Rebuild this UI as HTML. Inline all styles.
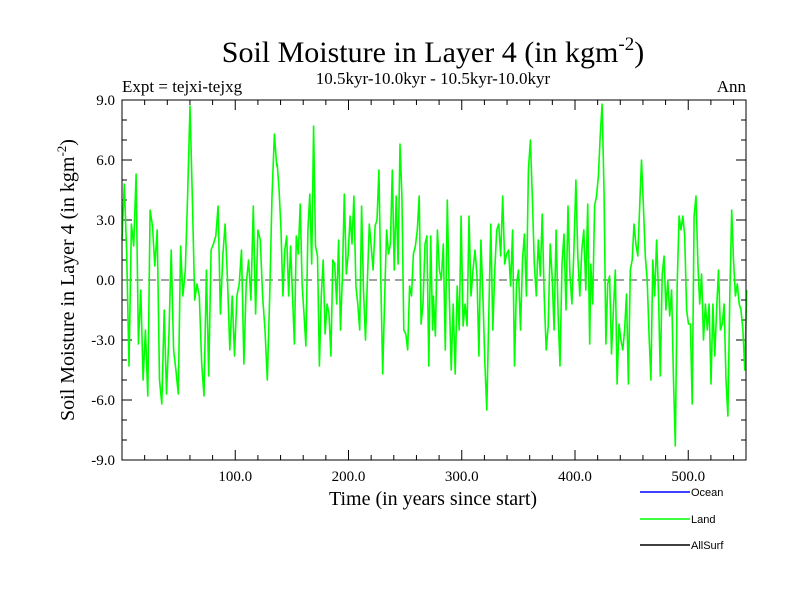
<!DOCTYPE html>
<html><head><meta charset="utf-8"><style>
body{margin:0;background:#fff}
svg{display:block}
text{font-family:"Liberation Serif",serif;fill:#000}
</style></head><body>
<svg id="chart" width="800" height="600" xmlns="http://www.w3.org/2000/svg">
<text x="433" y="62" font-size="30" text-anchor="middle">Soil Moisture in Layer 4 (in kgm<tspan font-size="19" dy="-12">-2</tspan><tspan dy="12">)</tspan></text>
<text x="433" y="84" font-size="17" text-anchor="middle">10.5kyr-10.0kyr - 10.5kyr-10.0kyr</text>
<text x="122" y="92" font-size="17">Expt = tejxi-tejxg</text>
<text x="746" y="92" font-size="17" text-anchor="end">Ann</text>
<text transform="translate(74,280) rotate(-90)" font-size="20" text-anchor="middle">Soil Moisture in Layer 4 (in kgm<tspan font-size="13" dy="-8">-2</tspan><tspan dy="8">)</tspan></text>
<text x="433" y="505" font-size="20" text-anchor="middle">Time (in years since start)</text>
<g id="axes"></g>
<g id="series"></g>
<rect x="122" y="100" width="624" height="360" fill="none" stroke="#000" stroke-width="1"/>
<g font-family="Liberation Sans, sans-serif">
<line x1="640" y1="492" x2="690" y2="492" stroke="#0000ff" stroke-width="1.5"/>
<text x="691" y="496" font-size="11" style="font-family:'Liberation Sans',sans-serif">Ocean</text>
<line x1="640" y1="519" x2="690" y2="519" stroke="#00ff00" stroke-width="1.5"/>
<text x="691" y="523" font-size="11" style="font-family:'Liberation Sans',sans-serif">Land</text>
<line x1="640" y1="545" x2="690" y2="545" stroke="#000" stroke-width="1.5"/>
<text x="691" y="549" font-size="11" style="font-family:'Liberation Sans',sans-serif">AllSurf</text>
</g>
</svg>
<script>
const segStarts=[0,137,275,414];
const segEnds=[136.6,274.3,413,551.6];
const land1=[2.0,4.8,1.3,-4.3,2.8,1.7,5.3,-3.2,-0.5,-5,-2.5,-5.8,3.5,2.7,0.7,2.5,-5,-6.2,-1.5,-5.7,-2.8,1.5,-3.5,-4.5,-5.7,1.7,-0.8,0.5,4.2,8.7,4.2,-1,-0.2,-0.8,-4.2,-5.8,0.5,-4.8,1.5,1.8,2.2,3.7,-1.7,1.2,2.8,0,-3.5,-0.8,-3.8,-0.8,-0.2,1.5,-4.2,-0.2,1.0,-1,3.7,-1.7,2.5,2,-0.8,-2.5,-5,-0.8,4.2,7.3,5.7];
const land2=[5.8,4.5,2.5,-0.8,1.5,2.2,-0.8,1.7,-0.8,-3.2,2.2,1.3,3.8,-0.2,-1.7,-3.3,2.5,4.3,0.8,7.7,1.7,1.2,-4.3,-0.8,1.0,-2.7,-1.2,-1.7,-3.8,1.0,0.8,-1.2,2.0,-2.5,0.2,4.3,0.3,1.3,3.2,1.8,4.2,-0.3,-1.2,-2.5,3.7,-0.5,-3,0,2.8,1.7,0.5,2.7,3.0,5.5,0,-4.7,-0.8,2.5,1.3,1.8,5.5,0.5,4.2,0.8,6.8,4.2,-2.5,-2.7,-3.5,-0.3,-0.8,1.3,1.7,2.5,4.2,-2.2,-1.2,1.8,2.2,-4.3,2.2,-2.5];
const land3=[-0.8,-2.8,2.5,0.5,0,1.8,-3.5,4.0,-0.8,-4.5,-1.2,-4.7,-0.3,-2.5,3.2,-2.3,-1.2,-2.3,3.2,-0.8,0.5,1.5,0.2,-3.8,2.0,-0.8,-4.2,-6.5,-1.7,2.8,-2.5,0.5,2.5,2.8,1.2,4.2,0.8,1.3,1.5,-0.3,2.5,-4.3,-0.2,0.5,-2.5,1.0,2.3,-0.8,5.5,7.0,4.2,0.8,-0.8,2.0,0.2,3.3,-0.8,-3.5,-2.3,1.8,0.2,-2.5,2.5,-1.7,-4.3,0.8,2.3,-1.5,3.7,0.3,-1.2,1.5,5.0,1.2,-0.8,1.5,2.5,-0.5,3.8,-3.2];
const land4=[0.8,-1.2,3.7,4.2,5.2,7.2,8.8,4.5,-3.2,-0.2,0.2,-3.7,-1.5,0.5,-5.2,-2.2,-3,-3.5,-2.5,-0.7,-5.2,0.5,1.0,2.8,1.8,1.2,3.7,6.0,3.7,1.2,0,-2.8,-5,1.0,-0.8,2.0,-0.5,-4.8,0.3,1.2,-1.5,0,-1.8,-0.5,-5,-8.3,-0.2,3.2,2.5,3.2,2.2,-1.5,-2.2,-2.2,-6.2,3.2,4.2,0.8,-1.2,0.3,-3,-1.2,-2.5,-1.2,-5.2,-1.2,-3.8,-1.5,0.5,-2.5,-2.2,-1.2,-5,-6.8,-0.8,3.5,1.0,-0.8,-0.2,-1.2,-1.5,-2.5,-4.5,-0.5];
const xTicks=[100,200,300,400,500];
const xTickLabels=["100.0","200.0","300.0","400.0","500.0"];
const yTicks=[-9,-6,-3,0,3,6,9];
const yTickLabels=["-9.0","-6.0","-3.0","0.0","3.0","6.0","9.0"];
const X0=122,X1=746,Y0=100,Y1=460,XMAX=551,YMIN=-9,YMAX=9;
const xs=v=>X0+(v/XMAX)*(X1-X0);
const ys=v=>Y1-(v-YMIN)/(YMAX-YMIN)*(Y1-Y0);
const NS="http://www.w3.org/2000/svg";
function mk(tag,attrs,parent){const e=document.createElementNS(NS,tag);for(const k in attrs)e.setAttribute(k,attrs[k]);parent.appendChild(e);return e;}
const axes=document.getElementById('axes');
for(let t=20;t<XMAX;t+=20){
  const major=t%100===0,len=major?10:5;
  let l=mk('line',{x1:xs(t),x2:xs(t),y1:Y1,y2:Y1-len,stroke:'#000'},axes);
  
  
  l=mk('line',{x1:xs(t),x2:xs(t),y1:Y0,y2:Y0+len,stroke:'#000'},axes);
  
  
}
for(let t=YMIN+1;t<YMAX;t+=1){
  const major=t%3===0,len=major?10:5;
  let l=mk('line',{x1:X0,x2:X0+len,y1:ys(t),y2:ys(t),stroke:'#000'},axes);
  
  
  l=mk('line',{x1:X1,x2:X1-len,y1:ys(t),y2:ys(t),stroke:'#000'},axes);
  
  
}
xTicks.forEach((t,i)=>{const e=mk('text',{x:xs(t),y:Y1+21,'font-size':15,'text-anchor':'middle'},axes);e.textContent=xTickLabels[i];
  
  });
yTicks.forEach((t,i)=>{const e=mk('text',{x:X0-7,y:ys(t)+5,'font-size':15,'text-anchor':'end'},axes);e.textContent=yTickLabels[i];
  
  });
const zl=mk('line',{x1:X0,x2:X1,y1:ys(0),y2:ys(0),stroke:'#444','stroke-dasharray':'8,5'},axes);


const segs=[land1,land2,land3,land4];
let pts=[];
segs.forEach((arr,s)=>{const n=arr.length;arr.forEach((v,i)=>{const yr=segStarts[s]+(segEnds[s]-segStarts[s])*i/(n-1);pts.push(xs(yr).toFixed(1)+','+ys(v).toFixed(1));});});
const pl=mk('polyline',{points:pts.join(' '),fill:'none',stroke:'#00ff00','stroke-width':1.6,'stroke-linejoin':'round'},document.getElementById('series'));


</script>
</body></html>
